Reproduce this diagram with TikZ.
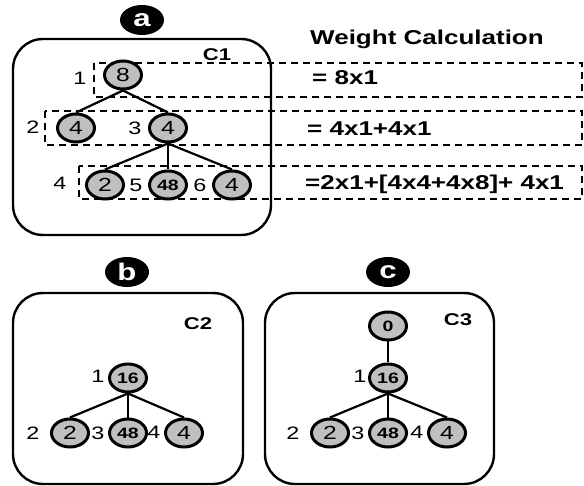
\documentclass[tikz,border=0pt]{standalone}
\usepackage{fontspec}
\setmainfont{Liberation Sans}[FakeStretch=1.3]
\usepackage{tikz}
\usetikzlibrary{shapes.geometric}

\begin{document}
\begin{tikzpicture}[x=1pt,y=-1pt,
    vtx/.style={ellipse,draw,line width=3pt,fill=black!25,minimum width=37pt,minimum height=28pt,inner sep=0pt,font=\fontsize{19}{19}\selectfont},
    bvtx/.style={vtx,font=\fontsize{15}{15}\selectfont\bfseries},
    num/.style={inner sep=0pt,font=\fontsize{18}{18}\selectfont},
    tag/.style={ellipse,fill=black,text=white,minimum width=44pt,minimum height=30pt,inner sep=0pt,font=\fontsize{24}{24}\selectfont\bfseries},
    cbox/.style={draw,line width=2.4pt,rounded corners=30pt},
    lvl/.style={draw,line width=1.8pt,dash pattern=on 7pt off 5pt},
    eq/.style={anchor=west,inner sep=0pt,font=\fontsize{20}{20}\selectfont\bfseries},
    cname/.style={inner sep=0pt,font=\fontsize{17}{17}\selectfont\bfseries},
    link/.style={line width=2.2pt}]
    \useasboundingbox[fill=white] (0,0) rectangle (584,486);
    % panel a
    \node[tag] (ta) at (142,20) {a};
    \draw[cbox] (13,39) rectangle (271,235);
    \node[cname] (c1) at (217,55) {C1};
    \node[inner sep=0pt,font=\fontsize{20}{20}\selectfont\bfseries] (wc) at (427,39) {Weight Calculation};
    \draw[lvl] (94,63) rectangle (582,97);
    \draw[lvl] (45,111) rectangle (582,145);
    \draw[lvl] (79,166) rectangle (582,199);
    \node[eq] (e1) at (312,78) {= 8x1};
    \node[eq] (e2) at (307,129) {= 4x1+4x1};
    \node[eq] (e3) at (305,184) {=2x1+[4x4+4x8]+ 4x1};
    \node[vtx] (n1) at (123,75) {8};
    \node[vtx] (n2) at (76,128) {4};
    \node[vtx] (n3) at (168,128) {4};
    \node[vtx] (n4) at (105,185) {2};
    \node[bvtx] (n5) at (168,185) {48};
    \node[vtx] (n6) at (232,185) {4};
    \node[num] (l1) at (80,78) {1};
    \node[num] (l2) at (33,127) {2};
    \node[num] (l3) at (135,128) {3};
    \node[num] (l4) at (60,183) {4};
    \node[num] (l5) at (136,185) {5};
    \node[num] (l6) at (200,185) {6};
    \draw[link] (n1.south) -- (n2.north);
    \draw[link] (n1.south) -- (n3.north);
    \draw[link] (n3.south) -- (n4.north);
    \draw[link] (n3.south) -- (n5.north);
    \draw[link] (n3.south) -- (n6.north);
    % panel b
    \node[tag] (tb) at (127,272) {b};
    \draw[cbox] (13,293) rectangle (243,484);
    \node[cname] (c2) at (198,324) {C2};
    \node[bvtx] (m1) at (128,378) {16};
    \node[vtx] (m2) at (70,433) {2};
    \node[bvtx] (m3) at (128,433) {48};
    \node[vtx] (m4) at (184,433) {4};
    \node[num] (p1) at (98,376) {1};
    \node[num] (p2) at (33,433) {2};
    \node[num] (p3) at (98,433) {3};
    \node[num] (p4) at (154,432) {4};
    \draw[link] (m1.south) -- (m2.north);
    \draw[link] (m1.south) -- (m3.north);
    \draw[link] (m1.south) -- (m4.north);
    % panel c
    \node[tag] (tc) at (388,272) {c};
    \draw[cbox] (265,293) rectangle (494,484);
    \node[cname] (c3) at (458,320) {C3};
    \node[bvtx] (k0) at (388,326) {0};
    \node[bvtx] (k1) at (388,378) {16};
    \node[vtx] (k2) at (330,433) {2};
    \node[bvtx] (k3) at (388,433) {48};
    \node[vtx] (k4) at (447,433) {4};
    \node[num] (q1) at (360,376) {1};
    \node[num] (q2) at (293,433) {2};
    \node[num] (q3) at (358,433) {3};
    \node[num] (q4) at (417,432) {4};
    \draw[link] (k0) -- (k1);
    \draw[link] (k1.south) -- (k2.north);
    \draw[link] (k1.south) -- (k3.north);
    \draw[link] (k1.south) -- (k4.north);
\end{tikzpicture}
\end{document}
